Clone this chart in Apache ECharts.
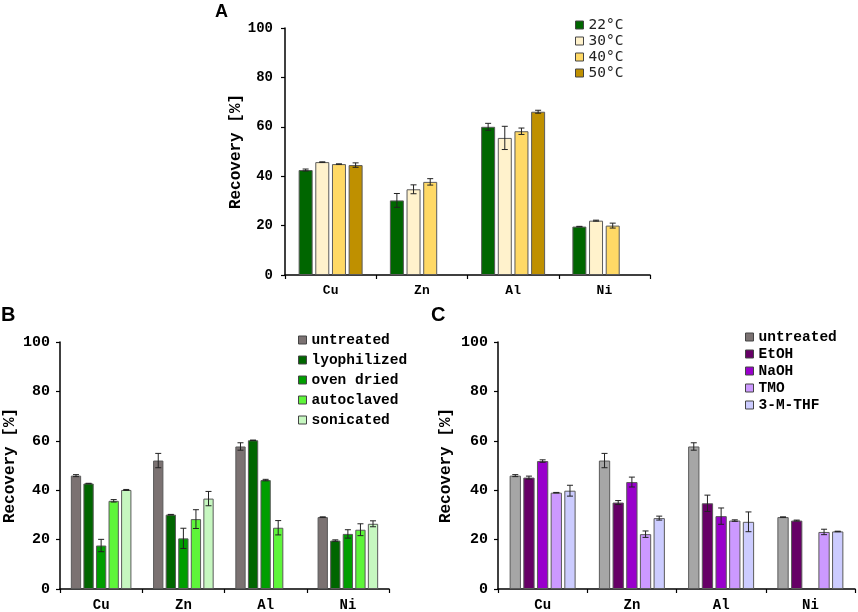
<!DOCTYPE html>
<html>
<head>
<meta charset="utf-8">
<script src="https://cdn.jsdelivr.net/npm/echarts@6/dist/echarts.min.js"></script>
<style>html,body{margin:0;padding:0;background:#fff}#c{width:858px;height:612px}</style>
</head>
<body>
<div id="c"></div>
<script>
// ---------- data ----------
const categories = ['Cu', 'Zn', 'Al', 'Ni'];
const yTicks = [0, 20, 40, 60, 80, 100];

// Panel A: temperatures
const namesA = ['22°C', '30°C', '40°C', '50°C'];
const a22 = [42.5, 30.2, 60.0, 19.6];
const a22Err = [0.4, 2.8, 1.4, 0.1];
const a30 = [45.7, 34.7, 55.5, 22.0];
const a30Err = [0.1, 1.8, 4.7, 0.2];
const a40 = [44.9, 37.7, 58.2, 20.0];
const a40Err = [0.1, 1.3, 1.3, 1.0];
const a50 = [44.5, null, 66.1, null];
const a50Err = [0.9, null, 0.6, null];

// Panel B: pre-treatments
const namesB = ['untreated', 'lyophilized', 'oven dried', 'autoclaved', 'sonicated'];
const bUntreated = [45.9, 52.0, 57.7, 29.1];
const bUntreatedErr = [0.4, 2.9, 1.5, 0.1];
const bLyophilized = [42.7, 30.1, 60.2, 19.6];
const bLyophilizedErr = [0.1, 0.1, 0.1, 0.3];
const bOvenDried = [17.6, 20.5, 44.1, 22.3];
const bOvenDriedErr = [2.5, 4.1, 0.3, 1.7];
const bAutoclaved = [35.7, 28.3, 24.8, 24.0];
const bAutoclavedErr = [0.5, 3.8, 2.9, 2.4];
const bSonicated = [40.1, 36.6, null, 26.4];
const bSonicatedErr = [0.2, 2.9, null, 1.2];

// Panel C: solvents
const namesC = ['untreated', 'EtOH', 'NaOH', 'TMO', '3-M-THF'];
const cUntreated = [45.9, 52.0, 57.7, 29.1];
const cUntreatedErr = [0.4, 2.9, 1.5, 0.1];
const cEtOH = [45.1, 35.0, 34.7, 27.7];
const cEtOHErr = [0.6, 0.8, 3.3, 0.2];
const cNaOH = [51.8, 43.3, 29.5, null];
const cNaOHErr = [0.5, 2.0, 3.3, null];
const cTMO = [39.0, 22.2, 27.7, 23.1];
const cTMOErr = [0.1, 1.3, 0.3, 1.1];
const cMTHF = [39.8, 28.7, 27.2, 23.3];
const cMTHFErr = [2.2, 0.8, 4.0, 0.1];

// ---------- styles ----------
const colorsA = ['#006600', '#FFF2CC', '#FFD966', '#BF9000'];
const colorsB = ['#7B7272', '#006600', '#009E00', '#5EF53A', '#C6F7C0'];
const colorsC = ['#A6A6A6', '#660066', '#9900CC', '#CC99FF', '#CCCCFF'];
const mono = '"Liberation Mono", "Courier New", monospace';

const panels = [
  { names: namesA, vals: [a22, a30, a40, a50], errs: [a22Err, a30Err, a40Err, a50Err], colors: colorsA,
    grid: { left: 285, top: 28, width: 365, height: 247 }, bw: 14, gap: 0.19, fs: 14, nameGap: 40, labelMargin: 12 },
  { names: namesB, vals: [bUntreated, bLyophilized, bOvenDried, bAutoclaved, bSonicated],
    errs: [bUntreatedErr, bLyophilizedErr, bOvenDriedErr, bAutoclavedErr, bSonicatedErr], colors: colorsB,
    grid: { left: 60, top: 342, width: 329, height: 248 }, bw: 10.3, gap: 0.22, fs: 15, nameGap: 42, labelMargin: 10 },
  { names: namesC, vals: [cUntreated, cEtOH, cNaOH, cTMO, cMTHF],
    errs: [cUntreatedErr, cEtOHErr, cNaOHErr, cTMOErr, cMTHFErr], colors: colorsC,
    grid: { left: 498, top: 342, width: 357, height: 248 }, bw: 11.3, gap: 0.21, fs: 15, nameGap: 44, labelMargin: 10 }
];

const grids = [], xAxes = [], yAxes = [], series = [];
panels.forEach((p, pi) => {
  grids.push(Object.assign({ containLabel: false }, p.grid));
  xAxes.push({
    type: 'category', gridIndex: pi, data: categories, boundaryGap: true,
    axisLine: { lineStyle: { color: '#000', width: 1.5 } },
    axisTick: { show: true, length: 4, lineStyle: { color: '#000', width: 1.2 } },
    axisLabel: { color: '#000', fontFamily: mono, fontWeight: 'bold', fontSize: p.fs - 1, margin: 9 },
    splitLine: { show: false }
  });
  yAxes.push({
    type: 'value', gridIndex: pi, min: yTicks[0], max: yTicks[yTicks.length - 1], interval: 20,
    name: 'Recovery [%]', nameLocation: 'middle', nameGap: p.nameGap, nameRotate: 90,
    nameTextStyle: { color: '#000', fontFamily: mono, fontWeight: 'bold', fontSize: 16 },
    axisLine: { show: true, lineStyle: { color: '#000', width: 1.5 } },
    axisTick: { show: true, length: 4, lineStyle: { color: '#000', width: 1.2 } },
    axisLabel: { color: '#000', fontFamily: mono, fontWeight: 'bold', fontSize: p.fs, margin: p.labelMargin },
    splitLine: { show: false }
  });
  const n = p.names.length;
  p.names.forEach((nm, si) => {
    series.push({
      type: 'bar', name: nm, xAxisIndex: pi, yAxisIndex: pi,
      data: p.vals[si].map(v => v === null ? '-' : v),
      barWidth: p.bw, barGap: (p.gap * 100) + '%',
      itemStyle: { color: p.colors[si], borderColor: '#5a5a5a', borderWidth: 1 },
      z: 2
    });
  });
  p.names.forEach((nm, si) => {
    const d = [];
    p.vals[si].forEach((v, ci) => {
      if (v !== null && p.errs[si][ci] !== null) d.push([ci, v, p.errs[si][ci]]);
    });
    const off = (si - (n - 1) / 2) * (p.bw * (1 + p.gap));
    series.push({
      type: 'custom', name: nm + ' err', xAxisIndex: pi, yAxisIndex: pi, z: 5,
      silent: true, legendHoverLink: false,
      data: d,
      renderItem: function (params, api) {
        const ci = api.value(0), v = api.value(1), e = api.value(2);
        const c = api.coord([ci, v]);
        const hi = api.coord([ci, v + e]);
        const lo = api.coord([ci, v - e]);
        const x = c[0] + off;
        const cap = 3;
        const st = { stroke: '#222', lineWidth: 1 };
        return {
          type: 'group',
          children: [
            { type: 'line', shape: { x1: x, y1: hi[1], x2: x, y2: lo[1] }, style: st },
            { type: 'line', shape: { x1: x - cap, y1: hi[1], x2: x + cap, y2: hi[1] }, style: st },
            { type: 'line', shape: { x1: x - cap, y1: lo[1], x2: x + cap, y2: lo[1] }, style: st }
          ]
        };
      }
    });
  });
});

const legends = [
  { data: namesA, left: 575, top: 17, itemGap: 0,
    textStyle: { fontFamily: '"DejaVu Sans Mono", monospace', fontSize: 14.5, color: '#222', lineHeight: 16 } },
  { data: namesB, left: 298, top: 332, itemGap: 4,
    textStyle: { fontFamily: mono, fontWeight: 'bold', fontSize: 14.5, color: '#000', lineHeight: 16 } },
  { data: namesC, left: 745, top: 329, itemGap: 1,
    textStyle: { fontFamily: mono, fontWeight: 'bold', fontSize: 14.5, color: '#000', lineHeight: 16 } }
].map(l => Object.assign({
  orient: 'vertical', icon: 'rect', itemWidth: 8, itemHeight: 8, padding: 0,
  selectedMode: false, itemStyle: { borderColor: '#444', borderWidth: 1 }
}, l));

const chart = echarts.init(document.getElementById('c'), null, { renderer: 'canvas' });
chart.setOption({
  backgroundColor: '#fff',
  animation: false,
  grid: grids, xAxis: xAxes, yAxis: yAxes, legend: legends, series: series,
  graphic: [
    { type: 'text', left: 215, top: 3, style: { text: 'A', fontFamily: '"Liberation Sans", Arial, sans-serif', fontWeight: 'bold', fontSize: 18, fill: '#000' } },
    { type: 'text', left: 1, top: 305, style: { text: 'B', fontFamily: '"Liberation Sans", Arial, sans-serif', fontWeight: 'bold', fontSize: 20, fill: '#000' } },
    { type: 'text', left: 431, top: 305, style: { text: 'C', fontFamily: '"Liberation Sans", Arial, sans-serif', fontWeight: 'bold', fontSize: 20, fill: '#000' } }
  ]
});
</script>
</body>
</html>
